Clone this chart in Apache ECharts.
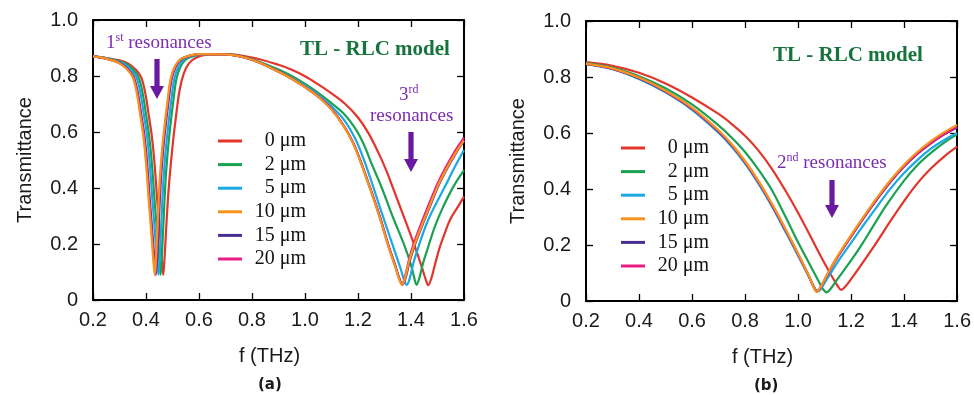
<!DOCTYPE html>
<html><head><meta charset="utf-8">
<script src="https://cdn.jsdelivr.net/npm/echarts@6/dist/echarts.min.js"></script>
<style>html,body{margin:0;padding:0;background:#fff}#c{width:974px;height:395px}</style>
</head><body><div id="c"></div>
<script>
// ---------- data ----------
const seriesNames = ['0 μm', '2 μm', '5 μm', '10 μm', '15 μm', '20 μm'];
const xTicks = [0.2, 0.4, 0.6, 0.8, 1.0, 1.2, 1.4, 1.6];
const yTicks = [0, 0.2, 0.4, 0.6, 0.8, 1.0];

// (a) [f (THz), Transmittance]
const a_0um = [[0.20,0.870],[0.25,0.864],[0.30,0.856],[0.332,0.845],[0.362,0.822],[0.382,0.795],[0.397,0.740],[0.412,0.650],[0.422,0.585],[0.432,0.490],[0.442,0.360],[0.452,0.240],[0.459,0.150],[0.465,0.090],[0.470,0.150],[0.477,0.270],[0.485,0.390],[0.494,0.490],[0.503,0.575],[0.513,0.655],[0.527,0.750],[0.543,0.810],[0.562,0.845],[0.59,0.866],[0.63,0.876],[0.70,0.878],[0.80,0.866],[0.90,0.840],[0.95,0.822],[1.00,0.799],[1.05,0.770],[1.10,0.738],[1.15,0.702],[1.20,0.652],[1.24,0.595],[1.28,0.520],[1.31,0.455],[1.33,0.405],[1.37,0.305],[1.415,0.190],[1.44,0.120],[1.455,0.075],[1.465,0.053],[1.477,0.078],[1.49,0.125],[1.509,0.190],[1.53,0.245],[1.547,0.286],[1.575,0.330],[1.60,0.369]];
const a_2um = [[0.20,0.870],[0.25,0.864],[0.30,0.852],[0.322,0.845],[0.352,0.822],[0.372,0.795],[0.387,0.740],[0.402,0.650],[0.412,0.585],[0.422,0.490],[0.432,0.360],[0.442,0.240],[0.449,0.150],[0.455,0.090],[0.460,0.160],[0.467,0.300],[0.474,0.430],[0.482,0.530],[0.491,0.615],[0.501,0.695],[0.515,0.790],[0.531,0.835],[0.552,0.860],[0.582,0.872],[0.622,0.878],[0.70,0.878],[0.80,0.860],[0.90,0.823],[0.95,0.800],[1.00,0.772],[1.05,0.740],[1.10,0.703],[1.15,0.662],[1.19,0.612],[1.22,0.560],[1.25,0.490],[1.29,0.400],[1.33,0.300],[1.377,0.190],[1.40,0.125],[1.412,0.080],[1.421,0.054],[1.432,0.080],[1.445,0.130],[1.465,0.190],[1.49,0.262],[1.52,0.330],[1.56,0.405],[1.60,0.464]];
const a_5um = [[0.20,0.870],[0.25,0.863],[0.30,0.849],[0.314,0.845],[0.344,0.822],[0.364,0.795],[0.379,0.740],[0.394,0.650],[0.404,0.585],[0.414,0.490],[0.424,0.360],[0.434,0.240],[0.441,0.150],[0.447,0.090],[0.452,0.160],[0.459,0.300],[0.466,0.430],[0.474,0.530],[0.483,0.615],[0.493,0.695],[0.507,0.790],[0.523,0.835],[0.544,0.860],[0.574,0.872],[0.614,0.878],[0.70,0.877],[0.80,0.858],[0.90,0.817],[0.95,0.792],[1.00,0.765],[1.05,0.732],[1.10,0.692],[1.15,0.640],[1.19,0.575],[1.22,0.507],[1.252,0.420],[1.29,0.310],[1.333,0.190],[1.358,0.120],[1.373,0.075],[1.384,0.054],[1.396,0.080],[1.41,0.135],[1.428,0.190],[1.46,0.275],[1.495,0.345],[1.528,0.405],[1.565,0.475],[1.60,0.536]];
const a_10um = [[0.20,0.870],[0.25,0.862],[0.30,0.845],[0.33,0.822],[0.35,0.795],[0.365,0.740],[0.38,0.650],[0.39,0.585],[0.40,0.490],[0.41,0.360],[0.42,0.240],[0.427,0.150],[0.433,0.090],[0.438,0.160],[0.445,0.300],[0.452,0.430],[0.460,0.530],[0.469,0.615],[0.479,0.695],[0.493,0.790],[0.509,0.835],[0.53,0.860],[0.56,0.872],[0.60,0.878],[0.70,0.877],[0.80,0.858],[0.90,0.815],[0.95,0.790],[1.00,0.760],[1.05,0.726],[1.10,0.680],[1.145,0.622],[1.18,0.562],[1.21,0.492],[1.24,0.412],[1.28,0.300],[1.315,0.190],[1.34,0.120],[1.355,0.075],[1.366,0.055],[1.378,0.080],[1.392,0.135],[1.41,0.190],[1.44,0.265],[1.47,0.335],[1.50,0.405],[1.53,0.462],[1.566,0.522],[1.60,0.570]];
const a_15um = [[0.20,0.870],[0.25,0.862],[0.304,0.845],[0.334,0.822],[0.354,0.795],[0.369,0.740],[0.384,0.650],[0.394,0.585],[0.404,0.490],[0.414,0.360],[0.424,0.240],[0.431,0.150],[0.437,0.090],[0.442,0.160],[0.449,0.300],[0.456,0.430],[0.464,0.530],[0.473,0.615],[0.483,0.695],[0.497,0.790],[0.513,0.835],[0.534,0.860],[0.564,0.872],[0.604,0.878],[0.70,0.877],[0.80,0.858],[0.90,0.815],[0.95,0.790],[1.00,0.760],[1.05,0.726],[1.10,0.681],[1.147,0.621],[1.182,0.561],[1.212,0.491],[1.242,0.411],[1.282,0.300],[1.317,0.190],[1.342,0.120],[1.357,0.075],[1.368,0.055],[1.38,0.080],[1.394,0.135],[1.412,0.190],[1.442,0.265],[1.472,0.335],[1.502,0.405],[1.532,0.462],[1.568,0.522],[1.60,0.568]];
const a_20um = [[0.20,0.870],[0.25,0.862],[0.302,0.845],[0.332,0.822],[0.352,0.795],[0.367,0.740],[0.382,0.650],[0.392,0.585],[0.402,0.490],[0.412,0.360],[0.422,0.240],[0.429,0.150],[0.435,0.090],[0.440,0.160],[0.447,0.300],[0.454,0.430],[0.462,0.530],[0.471,0.615],[0.481,0.695],[0.495,0.790],[0.511,0.835],[0.532,0.860],[0.562,0.872],[0.602,0.878],[0.70,0.877],[0.80,0.858],[0.90,0.816],[0.95,0.791],[1.00,0.761],[1.05,0.727],[1.10,0.682],[1.145,0.624],[1.18,0.564],[1.21,0.494],[1.24,0.414],[1.28,0.302],[1.315,0.192],[1.34,0.122],[1.355,0.077],[1.366,0.056],[1.377,0.082],[1.39,0.135],[1.408,0.195],[1.438,0.272],[1.468,0.343],[1.50,0.415],[1.53,0.472],[1.566,0.532],[1.60,0.580]];

// (b) [f (THz), Transmittance]
const b_0um = [[0.20,0.853],[0.30,0.840],[0.40,0.815],[0.50,0.777],[0.60,0.727],[0.70,0.668],[0.75,0.632],[0.80,0.590],[0.85,0.538],[0.90,0.474],[0.95,0.398],[1.00,0.315],[1.05,0.225],[1.10,0.135],[1.13,0.084],[1.15,0.053],[1.162,0.040],[1.175,0.048],[1.20,0.078],[1.25,0.145],[1.30,0.215],[1.35,0.288],[1.40,0.357],[1.45,0.420],[1.50,0.472],[1.55,0.515],[1.60,0.551]];
const b_2um = [[0.20,0.850],[0.30,0.834],[0.40,0.803],[0.50,0.760],[0.60,0.702],[0.70,0.627],[0.75,0.583],[0.80,0.532],[0.85,0.470],[0.90,0.398],[0.95,0.306],[1.00,0.210],[1.05,0.120],[1.08,0.066],[1.095,0.041],[1.108,0.031],[1.12,0.040],[1.15,0.080],[1.20,0.145],[1.238,0.198],[1.28,0.262],[1.33,0.338],[1.40,0.430],[1.45,0.485],[1.50,0.528],[1.55,0.565],[1.60,0.595]];
const b_5um = [[0.20,0.846],[0.30,0.828],[0.40,0.793],[0.50,0.745],[0.60,0.683],[0.70,0.601],[0.75,0.551],[0.80,0.491],[0.85,0.420],[0.90,0.340],[0.95,0.252],[1.00,0.162],[1.04,0.088],[1.06,0.052],[1.074,0.034],[1.085,0.042],[1.11,0.080],[1.15,0.140],[1.20,0.208],[1.25,0.275],[1.30,0.340],[1.35,0.403],[1.40,0.457],[1.45,0.503],[1.50,0.543],[1.55,0.574],[1.60,0.600]];
const b_10um = [[0.20,0.848],[0.30,0.831],[0.40,0.798],[0.50,0.751],[0.60,0.691],[0.70,0.610],[0.75,0.560],[0.80,0.500],[0.85,0.430],[0.90,0.350],[0.95,0.262],[1.00,0.170],[1.04,0.092],[1.058,0.052],[1.070,0.033],[1.082,0.045],[1.11,0.095],[1.15,0.162],[1.20,0.235],[1.25,0.305],[1.30,0.372],[1.35,0.433],[1.40,0.487],[1.45,0.532],[1.50,0.570],[1.55,0.602],[1.60,0.629]];
const b_15um = [[0.20,0.847],[0.30,0.829],[0.40,0.796],[0.50,0.748],[0.60,0.687],[0.70,0.606],[0.75,0.556],[0.80,0.496],[0.85,0.426],[0.90,0.346],[0.95,0.258],[1.00,0.167],[1.04,0.090],[1.058,0.052],[1.071,0.034],[1.083,0.045],[1.11,0.093],[1.15,0.158],[1.20,0.230],[1.25,0.300],[1.30,0.366],[1.35,0.427],[1.40,0.480],[1.45,0.525],[1.50,0.562],[1.55,0.594],[1.60,0.620]];
const b_20um = [[0.20,0.847],[0.30,0.830],[0.40,0.797],[0.50,0.749],[0.60,0.688],[0.70,0.607],[0.75,0.557],[0.80,0.497],[0.85,0.427],[0.90,0.347],[0.95,0.259],[1.00,0.168],[1.04,0.091],[1.058,0.052],[1.070,0.034],[1.082,0.045],[1.11,0.094],[1.15,0.160],[1.20,0.232],[1.25,0.302],[1.30,0.368],[1.35,0.429],[1.40,0.482],[1.45,0.527],[1.50,0.564],[1.55,0.595],[1.60,0.622]];

const seriesA = [a_0um, a_2um, a_5um, a_10um, a_15um, a_20um];
const seriesB = [b_0um, b_2um, b_5um, b_10um, b_15um, b_20um];
const colors = ['#e3352b', '#1aa152', '#1ba9e1', '#f7941d', '#4b2e91', '#e81d84'];
const drawOrder = [0, 1, 2, 4, 5, 3];

// ---------- chart ----------
const SANS = 'Liberation Sans, Arial, sans-serif';
const SERIF = 'Liberation Serif, Times New Roman, serif';
const PURPLE_TXT = '#7b2db3';
const PURPLE_ARR = '#6a1aa0';
const GREEN_TXT = '#17733c';

const grids = [
  {left: 93, top: 20, width: 371, height: 280},
  {left: 586, top: 21, width: 372, height: 280}
];

function xAx(gi, pos) {
  const main = pos === 'bottom';
  return {
    type: 'value', gridIndex: gi, position: pos, min: 0.2, max: 1.6, interval: 0.2,
    axisLine: {show: true, onZero: false, lineStyle: {color: '#000', width: 2}},
    axisTick: {show: true, inside: true, length: 7, lineStyle: {color: '#000', width: 1.3}},
    splitLine: {show: false},
    axisLabel: {show: main, margin: 10, color: '#1a1a1a', fontFamily: SANS, fontSize: 20,
      formatter: v => v.toFixed(1)},
    name: main ? 'f (THz)' : '', nameLocation: 'middle', nameGap: 46,
    nameTextStyle: {fontFamily: SANS, fontSize: 20, color: '#1a1a1a', padding: [0, 18, 0, 0]}
  };
}
function yAx(gi, pos) {
  const main = pos === 'left';
  return {
    type: 'value', gridIndex: gi, position: pos, min: 0, max: 1.0, interval: 0.2,
    axisLine: {show: true, onZero: false, lineStyle: {color: '#000', width: 2}},
    axisTick: {show: true, inside: true, length: 7, lineStyle: {color: '#000', width: 1.3}},
    splitLine: {show: false},
    axisLabel: {show: main, margin: 15, color: '#1a1a1a', fontFamily: SANS, fontSize: 20,
      formatter: v => v === 0 ? '0' : v.toFixed(1)},
    name: main ? 'Transmittance' : '', nameLocation: 'middle', nameGap: 58, nameRotate: 90,
    nameTextStyle: {fontFamily: SANS, fontSize: 20, color: '#1a1a1a'}
  };
}

const series = [];
[seriesA, seriesB].forEach((set, gi) => {
  drawOrder.forEach(i => {
    series.push({
      type: 'line', name: seriesNames[i], xAxisIndex: gi * 2, yAxisIndex: gi * 2,
      data: set[i], showSymbol: false, smooth: 0.35,
      lineStyle: {color: colors[i], width: 2.2}, itemStyle: {color: colors[i]},
      animation: false
    });
  });
});

function legend(left, top) {
  return {
    left: left, top: top, orient: 'vertical', padding: 0, itemGap: 3.6,
    icon: 'rect', itemWidth: 24, itemHeight: 3, selectedMode: false,
    data: seriesNames.map((n, i) => ({name: n, itemStyle: {color: colors[i]}})),
    formatter: '{t|{name}}',
    textStyle: {rich: {t: {fontFamily: SERIF, fontSize: 20, color: '#111', width: 59, align: 'right', lineHeight: 20}}}
  };
}

function arrow(x, y0, y1) {
  const headH = 13, halfW = 7, sw = 2.6;
  return {
    type: 'polygon', silent: true,
    shape: {points: [[x - sw, y0], [x + sw, y0], [x + sw, y1 - headH], [x + halfW, y1 - headH], [x, y1], [x - halfW, y1 - headH], [x - sw, y1 - headH]]},
    style: {fill: PURPLE_ARR}
  };
}

const supRich = {
  a: {fontFamily: SERIF, fontSize: 19, fill: PURPLE_TXT, color: PURPLE_TXT},
  s: {fontFamily: SERIF, fontSize: 12, fill: PURPLE_TXT, color: PURPLE_TXT, padding: [0, 0, 10, 0]}
};

const graphic = [
  {type: 'text', left: 300, top: 39, silent: true, style: {text: 'TL - RLC model', fontFamily: SERIF, fontWeight: 'bold', fontSize: 21, fill: GREEN_TXT}},
  {type: 'text', left: 773, top: 45, silent: true, style: {text: 'TL - RLC model', fontFamily: SERIF, fontWeight: 'bold', fontSize: 21, fill: GREEN_TXT}},
  {type: 'text', left: 106, top: 32, silent: true, style: {text: '{a|1}{s|st}{a| resonances}', fill: PURPLE_TXT, rich: supRich}},
  {type: 'text', left: 399, top: 84, silent: true, style: {text: '{a|3}{s|rd}', fill: PURPLE_TXT, rich: supRich}},
  {type: 'text', left: 370, top: 107, silent: true, style: {text: 'resonances', fontFamily: SERIF, fontSize: 19, fill: PURPLE_TXT}},
  {type: 'text', left: 777, top: 152, silent: true, style: {text: '{a|2}{s|nd}{a| resonances}', fill: PURPLE_TXT, rich: supRich}},
  arrow(157, 59, 99),
  arrow(411, 132, 172),
  arrow(832, 180, 218),
  {type: 'text', left: 258, top: 378, silent: true, style: {text: '(a)', fontFamily: 'DejaVu Sans', fontWeight: 'bold', fontSize: 15, fill: '#1a1a1a'}},
  {type: 'text', left: 754, top: 379, silent: true, style: {text: '(b)', fontFamily: 'DejaVu Sans', fontWeight: 'bold', fontSize: 15, fill: '#1a1a1a'}}
];

const chart = echarts.init(document.getElementById('c'), null, {renderer: 'canvas'});
chart.setOption({
  animation: false,
  backgroundColor: '#fff',
  grid: grids,
  xAxis: [xAx(0, 'bottom'), xAx(0, 'top'), xAx(1, 'bottom'), xAx(1, 'top')],
  yAxis: [yAx(0, 'left'), yAx(0, 'right'), yAx(1, 'left'), yAx(1, 'right')],
  legend: [legend(218, 131), legend(621, 138)],
  series: series,
  graphic: graphic
});
</script>
</body></html>
